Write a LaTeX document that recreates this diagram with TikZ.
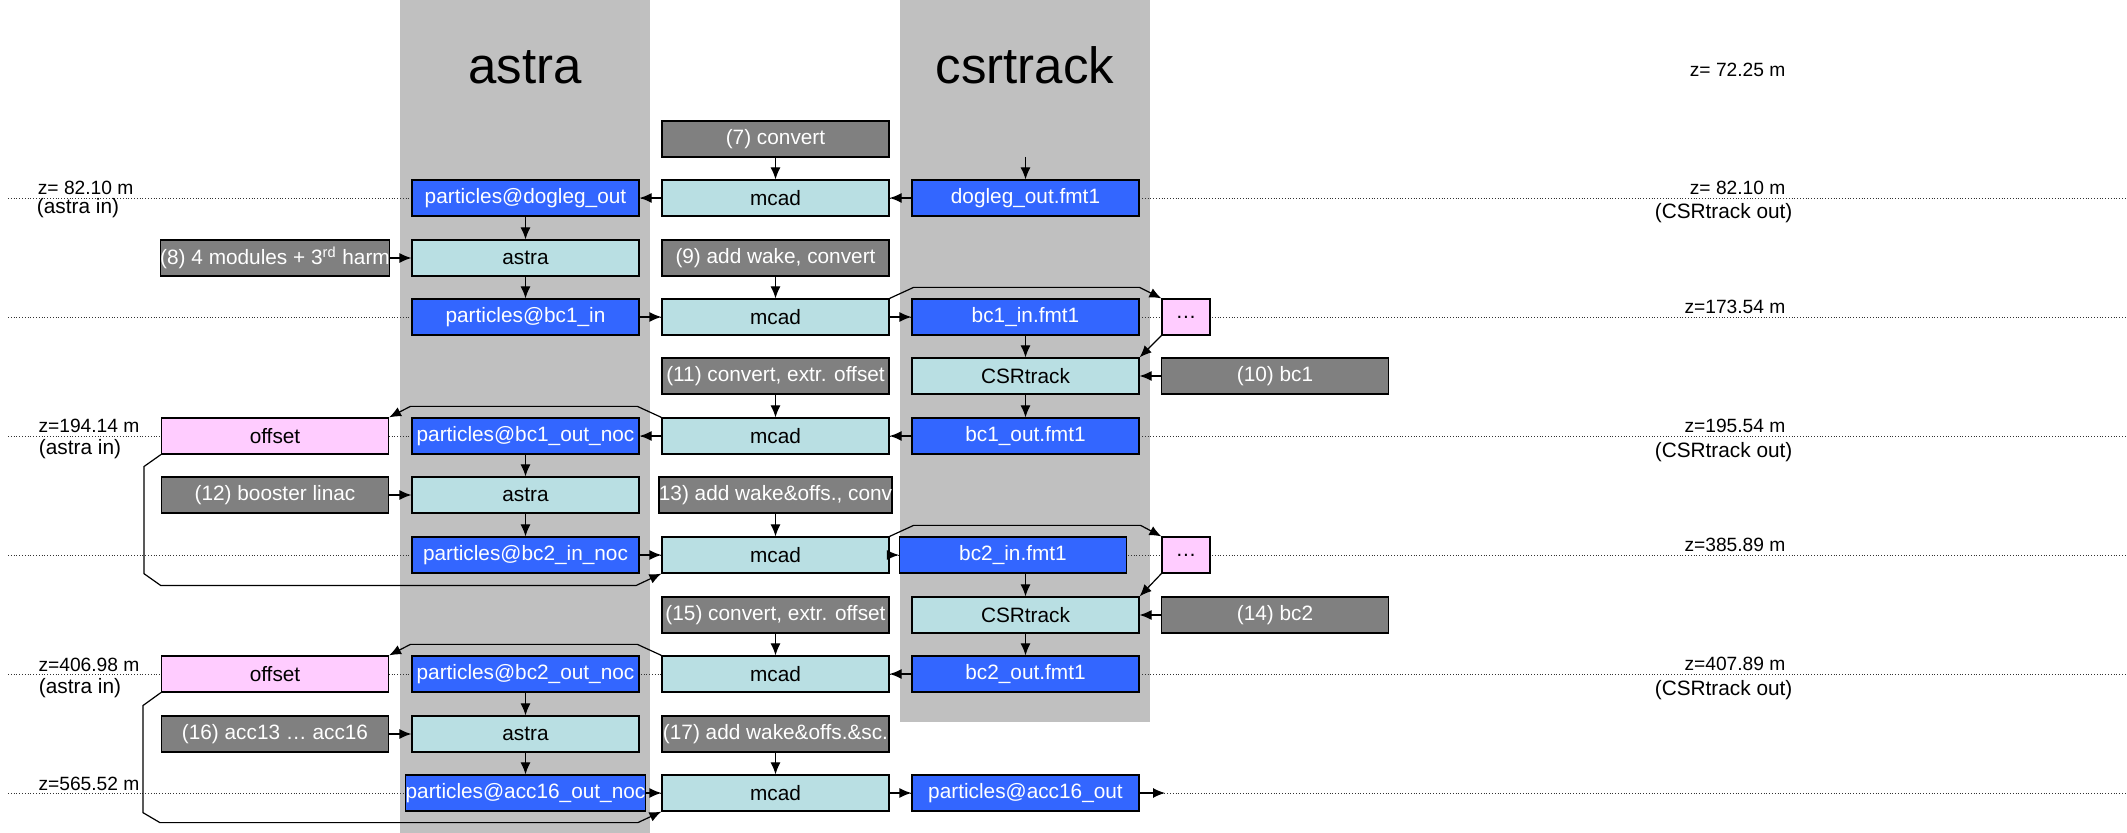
\documentclass[tikz,border=0pt]{standalone}
\usepackage{fontspec}
\setmainfont{Liberation Sans}
\usepackage{xcolor}
\usepackage{tikz}
\usetikzlibrary{arrows.meta}

\definecolor{bandgray}{HTML}{C0C0C0}
\definecolor{fileblue}{HTML}{3366FF}
\definecolor{toolcyan}{RGB}{185,223,227}
\definecolor{stepgray}{HTML}{808080}
\definecolor{offpink}{HTML}{FFCCFF}

\tikzset{
    box/.style={draw=black, line width=0.6pt, minimum width=113.5pt, minimum height=18pt,
        inner sep=0pt, font=\fontsize{10.4}{12}\selectfont},
    file/.style={box, fill=fileblue, text=white},
    tool/.style={box, fill=toolcyan},
    task/.style={box, fill=stepgray, text=white},
    offs/.style={box, fill=offpink},
    dotsbox/.style={offs, minimum width=24pt},
    zline/.style={densely dotted, line width=0.4pt, black!80},
    zlab/.style={font=\fontsize{9.6}{11}\selectfont, inner sep=0pt},
    zsub/.style={font=\fontsize{10.4}{12}\selectfont, inner sep=0pt},
    coltitle/.style={font=\fontsize{25.5}{30}\selectfont, anchor=base, inner sep=0pt}
}

\begin{document}
\begin{tikzpicture}[>={Latex[length=6pt,width=5pt]}, x=0.5pt, y=-0.5pt, line width=0.6pt]
    \useasboundingbox (0,0) rectangle (2127,833);

    % 1. Spalten
    \fill[bandgray] (400,0) rectangle (650,833);
    \fill[bandgray] (900,0) rectangle (1150,722);
    \node[coltitle] (tastra) at (525,84) {astra};
    \node[coltitle] (tcsr) at (1025,84) {csrtrack};

    % 2. z-Linien und Beschriftung
    \foreach \y in {198,317,436,555,674,793} {
        \draw[zline] (8,\y) -- (2127,\y);
    }
    \node[zlab, anchor=base east] (zl1) at (134,195) {z= 82.10 m};
    \node[zsub, anchor=base] (al1) at (78,214) {(astra in)};
    \node[zlab, anchor=base east] (zl5) at (140,433) {z=194.14 m};
    \node[zsub, anchor=base] (al5) at (80,455) {(astra in)};
    \node[zlab, anchor=base east] (zl9) at (140,672) {z=406.98 m};
    \node[zsub, anchor=base] (al9) at (80,694) {(astra in)};
    \node[zlab, anchor=base east] (zl11) at (140,791) {z=565.52 m};

    \node[zlab, anchor=base east] (zr0) at (1786,77) {z= 72.25 m};
    \node[zlab, anchor=base east] (zr1) at (1786,195) {z= 82.10 m};
    \node[zsub, anchor=base east] (cr1) at (1793,219) {(CSRtrack out)};
    \node[zlab, anchor=base east] (zr3) at (1786,314) {z=173.54 m};
    \node[zlab, anchor=base east] (zr5) at (1786,433) {z=195.54 m};
    \node[zsub, anchor=base east] (cr5) at (1793,458) {(CSRtrack out)};
    \node[zlab, anchor=base east] (zr7) at (1786,552) {z=385.89 m};
    \node[zlab, anchor=base east] (zr9) at (1786,671) {z=407.89 m};
    \node[zsub, anchor=base east] (cr9) at (1793,696) {(CSRtrack out)};

    % 3. Kaesten
    \node[task] (cnv7) at (775.5,139) {(7) convert};
    \coordinate (fmtin) at (1025.5,157);

    \node[file] (pdogleg) at (525.5,198) {particles@dogleg\_out};
    \node[tool] (mcadA) at (775.5,198) {mcad};
    \node[file] (fdogleg) at (1025.5,198) {dogleg\_out.fmt1};

    \node[task] (harm8) at (275,258) {(8) 4 modules + 3\textsuperscript{rd} harm};
    \node[tool] (astraA) at (525.5,258) {astra};
    \node[task] (wake9) at (775.5,258) {(9) add wake, convert};

    \node[file] (pbcin) at (525.5,317) {particles@bc1\_in};
    \node[tool] (mcadB) at (775.5,317) {mcad};
    \node[file] (fbcin) at (1025.5,317) {bc1\_in.fmt1};
    \node[dotsbox] (dotsA) at (1186,317) {…};

    \node[task] (cnv11) at (775.5,376) {(11) convert, extr. offset};
    \node[tool] (csrA) at (1025.5,376) {CSRtrack};
    \node[task] (bc10) at (1275,376) {(10) bc1};

    \node[offs] (offA) at (275,436) {offset};
    \node[file] (pbcout) at (525.5,436) {particles@bc1\_out\_noc};
    \node[tool] (mcadC) at (775.5,436) {mcad};
    \node[file] (fbcout) at (1025.5,436) {bc1\_out.fmt1};

    \node[task] (boost12) at (275,495) {(12) booster linac};
    \node[tool] (astraB) at (525.5,495) {astra};
    \node[task] (wake13) at (775.5,495) {13) add wake\&offs., conv};

    \node[file] (pbc2in) at (525.5,555) {particles@bc2\_in\_noc};
    \node[tool] (mcadD) at (775.5,555) {mcad};
    \node[file] (fbc2in) at (1013,555) {bc2\_in.fmt1};
    \node[dotsbox] (dotsB) at (1186,555) {…};

    \node[task] (cnv15) at (775.5,615) {(15) convert, extr. offset};
    \node[tool] (csrB) at (1025.5,615) {CSRtrack};
    \node[task] (bc14) at (1275,615) {(14) bc2};

    \node[offs] (offB) at (275,674) {offset};
    \node[file] (pbc2out) at (525.5,674) {particles@bc2\_out\_noc};
    \node[tool] (mcadE) at (775.5,674) {mcad};
    \node[file] (fbc2out) at (1025.5,674) {bc2\_out.fmt1};

    \node[task] (acc16) at (275,734) {(16) acc13 … acc16};
    \node[tool] (astraC) at (525.5,734) {astra};
    \node[task] (wake17) at (775.5,734) {(17) add wake\&offs.\&sc.};

    \node[file] (pacc) at (525.5,793) {particles@acc16\_out\_noc};
    \node[tool] (mcadF) at (775.5,793) {mcad};
    \node[file] (paccout) at (1025.5,793) {particles@acc16\_out};
    \coordinate (zend) at (1165,793);

    % 4. Pfeile
    \draw[->] (cnv7) -- (mcadA);
    \draw[->] (fmtin) -- (fdogleg);
    \draw[->] (fdogleg) -- (mcadA);
    \draw[->] (mcadA) -- (pdogleg);
    \draw[->] (pdogleg) -- (astraA);
    \draw[->] (harm8) -- (astraA);
    \draw[->] (astraA) -- (pbcin);
    \draw[->] (wake9) -- (mcadB);
    \draw[->] (pbcin) -- (mcadB);
    \draw[->] (mcadB) -- (fbcin);
    \draw[->] (mcadB.north east) -- ++(24,-11) -- ++(226,0) -- (dotsA.north west);
    \draw[->] (dotsA.south west) -- (csrA.north east);
    \draw[->] (fbcin) -- (csrA);
    \draw[->] (bc10) -- (csrA);
    \draw[->] (csrA) -- (fbcout);
    \draw[->] (cnv11) -- (mcadC);
    \draw[->] (fbcout) -- (mcadC);
    \draw[->] (mcadC) -- (pbcout);
    \draw[->] (mcadC.north west) -- ++(-24,-11) -- ++(-227,0) -- (offA.north east);
    \draw[->] (pbcout) -- (astraB);
    \draw[->] (boost12) -- (astraB);
    \draw[->] (astraB) -- (pbc2in);
    \draw[->] (offA.south west) -- ++(-17,12) -- ++(0,107) -- ++(17,12) -- ++(475,0) -- (mcadD.south west);
    \draw[->] (pbc2in) -- (mcadD);
    \draw[->] (wake13) -- (mcadD);
    \draw[->] (mcadD) -- (fbc2in);
    \draw[->] (mcadD.north east) -- ++(24,-11) -- ++(227,0) -- (dotsB.north west);
    \draw[->] (dotsB.south west) -- (csrB.north east);
    \draw[->] (fbc2in.south -| csrB) -- (csrB);
    \draw[->] (bc14) -- (csrB);
    \draw[->] (csrB) -- (fbc2out);
    \draw[->] (cnv15) -- (mcadE);
    \draw[->] (fbc2out) -- (mcadE);
    \draw[->] (mcadE.north west) -- ++(-24,-11) -- ++(-227,0) -- (offB.north east);
    \draw[->] (pbc2out) -- (astraC);
    \draw[->] (acc16) -- (astraC);
    \draw[->] (astraC) -- (pacc);
    \draw[->] (offB.south west) -- ++(-18,13) -- ++(0,107) -- ++(17,10) -- ++(478,0) -- (mcadF.south west);
    \draw[->] (pacc) -- (mcadF);
    \draw[->] (wake17) -- (mcadF);
    \draw[->] (mcadF) -- (paccout);
    \draw[->] (paccout) -- (zend);

\end{tikzpicture}
\end{document}
